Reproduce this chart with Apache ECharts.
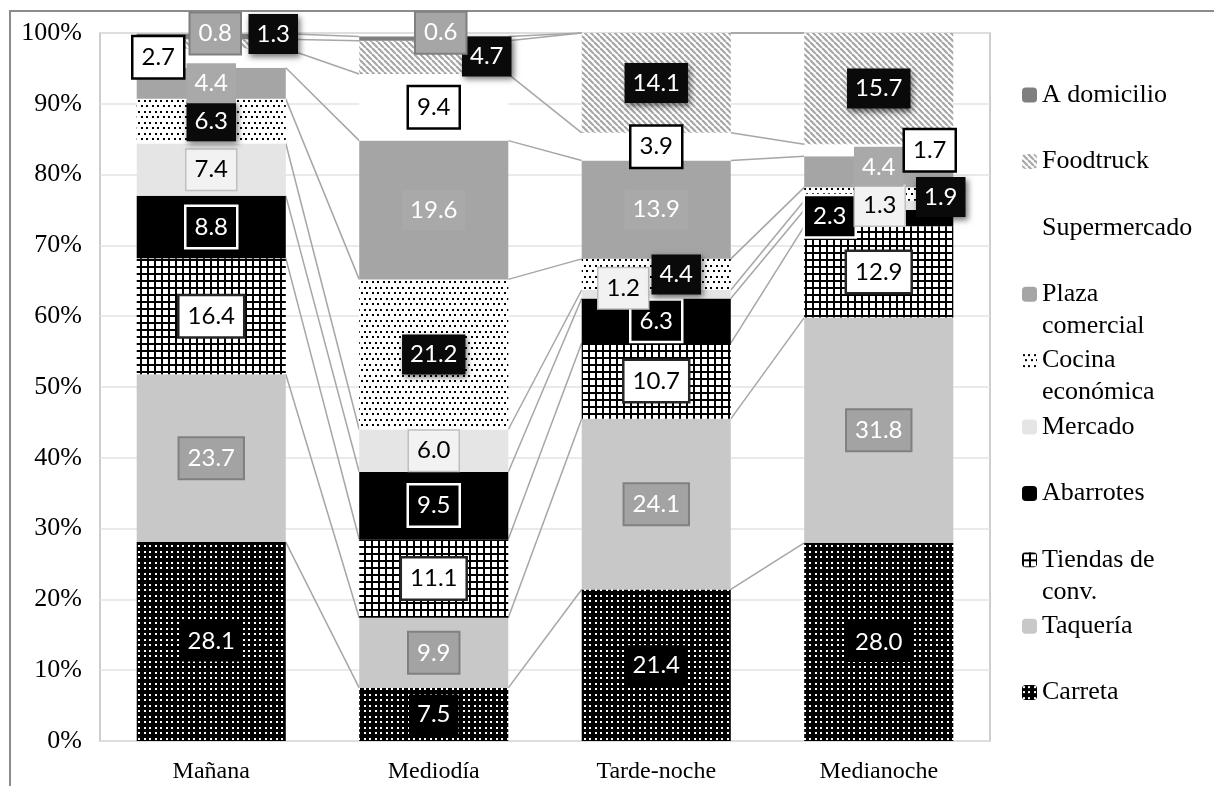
<!DOCTYPE html>
<html>
<head>
<meta charset="utf-8">
<script src="https://cdn.jsdelivr.net/npm/echarts@6/dist/echarts.min.js"></script>
<style>
  html, body { margin: 0; padding: 0; background: #ffffff; }
  #chart { width: 1214px; height: 786px; }
</style>
</head>
<body>
<div id="chart"></div>
<script>
// Time-of-day periods (x categories)
const periods = ['Mañana', 'Mediodía', 'Tarde-noche', 'Medianoche'];

// Share (%) of each place type per period, stacked bottom to top
const carreta      = [28.1,  7.5, 21.4, 28.0];
const taqueria     = [23.7,  9.9, 24.1, 31.8];
const tiendasConv  = [16.4, 11.1, 10.7, 12.9];
const abarrotes    = [ 8.8,  9.5,  6.3,  2.3];
const mercado      = [ 7.4,  6.0,  1.2,  1.3];
const cocinaEcon   = [ 6.3, 21.2,  4.4,  1.9];
const plazaCom     = [ 4.4, 19.6, 13.9,  4.4];
const supermercado = [ 2.7,  9.4,  3.9,  1.7];
const foodtruck    = [ 1.3,  4.7, 14.1, 15.7];
const aDomicilio   = [ 0.8,  0.6,  0.0,  0.0];

const seriesNames = ['Carreta', 'Taquería', 'Tiendas de conv.', 'Abarrotes', 'Mercado',
  'Cocina económica', 'Plaza comercial', 'Supermercado', 'Foodtruck', 'A domicilio'];
const seriesValues = [carreta, taqueria, tiendasConv, abarrotes, mercado,
  cocinaEcon, plazaCom, supermercado, foodtruck, aDomicilio];

// Legend wording (long names wrap onto two lines)
const legendText = {
  'Carreta': 'Carreta', 'Taquería': 'Taquería', 'Tiendas de conv.': 'Tiendas de\nconv.',
  'Abarrotes': 'Abarrotes', 'Mercado': 'Mercado', 'Cocina económica': 'Cocina\neconómica',
  'Plaza comercial': 'Plaza\ncomercial', 'Supermercado': 'Supermercado',
  'Foodtruck': 'Foodtruck', 'A domicilio': 'A domicilio'
};

// ---- fill patterns ----
function makeTile(size, draw) {
  const c = document.createElement('canvas');
  c.width = size; c.height = size;
  draw(c.getContext('2d'), size);
  return { image: c, repeat: 'repeat' };
}
const dotsOnBlack = makeTile(11, (g, n) => {
  g.fillStyle = '#000'; g.fillRect(0, 0, n, n);
  g.fillStyle = '#fff';
  [[1, 1], [6, 1], [1, 6], [6, 6]].forEach(p => g.fillRect(p[0], p[1], 2, 2));
});
const dotsOnWhite = makeTile(11, (g, n) => {
  g.fillStyle = '#fff'; g.fillRect(0, 0, n, n);
  g.fillStyle = '#000';
  [[1, 1], [6, 1], [3, 6], [9, 6]].forEach(p => g.fillRect(p[0], p[1], 2, 2));
});
const squareGrid = makeTile(7, (g, n) => {
  g.fillStyle = '#fff'; g.fillRect(0, 0, n, n);
  g.fillStyle = '#000';
  g.fillRect(0, 0, n, 2); g.fillRect(0, 0, 2, n);
});
const diagStripes = makeTile(6, (g, n) => {
  g.fillStyle = '#fff'; g.fillRect(0, 0, n, n);
  g.strokeStyle = '#a6a6a6'; g.lineWidth = 2.2;
  for (let k = -1; k <= 1; k++) {
    g.beginPath(); g.moveTo(k * n, 0); g.lineTo(k * n + n, n); g.stroke();
  }
});

const fills = [dotsOnBlack, '#c8c8c8', squareGrid, '#000000', '#e5e5e5',
  dotsOnWhite, '#a5a5a5', '#ffffff', diagStripes, '#7f7f7f'];

// Data-label box styles per series
const labelStyles = [
  { fill: '#fff', bg: '#000' },
  { fill: '#fff', bg: '#a3a3a3', border: '#808080', bw: 2 },
  { fill: '#000', bg: '#fff', border: '#262626', bw: 2.5 },
  { fill: '#fff', bg: '#000', border: '#fff', bw: 2.5 },
  { fill: '#000', bg: '#f2f2f2', border: '#bfbfbf', bw: 1.5 },
  { fill: '#fff', bg: '#0a0a0a', shadow: true },
  { fill: '#fff', bg: '#a9a9a9' },
  { fill: '#000', bg: '#fff', border: '#000', bw: 2.5 },
  { fill: '#fff', bg: '#0a0a0a', shadow: true },
  { fill: '#fff', bg: '#a6a6a6', border: '#7f7f7f', bw: 2 }
];
// Pixel nudges for labels moved off-centre so thin segments stay readable
const labelNudge = {
  3: { 3: [-49, -2] },
  4: { 2: [-33, -6], 3: [1, 0] },
  5: { 2: [20, 0], 3: [62, 3] },
  6: { 3: [0, -5] },
  7: { 0: [-53, -1], 3: [51, 0] },
  8: { 0: [62, -10], 1: [53, -1] },
  9: { 0: [4, -3], 1: [7, -6] }
};

// cumulative bottoms/tops of each stacked segment
const bottoms = [], tops = [];
seriesValues.forEach((vals, s) => {
  bottoms[s] = vals.map((v, c) => s === 0 ? 0 : tops[s - 1][c]);
  tops[s] = vals.map((v, c) => bottoms[s][c] + v);
});

const seriesLineData = [];
const labelData = [];
seriesValues.forEach((vals, s) => {
  for (let c = 0; c < periods.length - 1; c++) {
    seriesLineData.push([c, tops[s][c], tops[s][c + 1]]);
  }
  vals.forEach((v, c) => {
    if (v > 0) labelData.push([c, bottoms[s][c] + v / 2, v, s]);
  });
});

const BAR_RATIO = 0.67;

const barSeries = seriesNames.map((name, s) => ({
  name: name,
  type: 'bar',
  stack: 'share',
  barWidth: (BAR_RATIO * 100) + '%',
  z: 2,
  data: seriesValues[s],
  itemStyle: { color: fills[s], borderWidth: 0 },
  emphasis: { disabled: true },
  label: { show: false }
}));

// connectors between the top edges of matching segments
const connectorSeries = {
  type: 'custom',
  name: 'connectors',
  z: 1,
  silent: true,
  encode: { x: 0, y: 1 },
  data: seriesLineData,
  renderItem: function (params, api) {
    const c = api.value(0);
    const w = api.size([1, 0])[0] * BAR_RATIO;
    const a = api.coord([c, api.value(1)]);
    const b = api.coord([c + 1, api.value(2)]);
    return {
      type: 'line',
      shape: { x1: a[0] + w / 2, y1: a[1], x2: b[0] - w / 2, y2: b[1] },
      style: { stroke: '#a6a6a6', lineWidth: 1.5 }
    };
  }
};

// boxed value labels, drawn above every bar
const labelSeries = {
  type: 'custom',
  name: 'values',
  z: 10,
  silent: true,
  encode: { x: 0, y: 1 },
  data: labelData,
  renderItem: function (params, api) {
    const c = api.value(0), v = api.value(2), s = api.value(3);
    const p = api.coord([c, api.value(1)]);
    const nudge = (labelNudge[s] && labelNudge[s][c]) || [0, 0];
    const st = labelStyles[s];
    const style = {
      text: v.toFixed(1),
      font: '24px Lato',
      fill: st.fill,
      align: 'center',
      verticalAlign: 'middle',
      lineHeight: 24,
      backgroundColor: st.bg,
      padding: [8, 8, 8, 8]
    };
    if (st.border) { style.borderColor = st.border; style.borderWidth = st.bw; }
    if (st.shadow) {
      style.shadowBlur = 6; style.shadowColor = 'rgba(0,0,0,0.55)';
      style.shadowOffsetX = 2; style.shadowOffsetY = 3;
    }
    return { type: 'text', x: p[0] + nudge[0], y: p[1] + nudge[1], style: style };
  }
};

// one legend block per entry, stacked in fixed slots down the right side;
// wrapped names get a blank lead line so the swatch sits beside their first line
const twoLine = name => legendText[name].indexOf('\n') >= 0;
const legends = seriesNames.slice().reverse().map((name, i) => {
  const centre = 95 + i * 66.4;
  return {
    data: [name],
    orient: 'vertical',
    left: 1022,
    top: twoLine(name) ? centre - 48 : centre - 16,
    padding: 0,
    itemWidth: 15,
    itemHeight: 15,
    selectedMode: false,
    formatter: n => (twoLine(n) ? '\n' : '') + legendText[n],
    textStyle: {
      fontFamily: 'Liberation Serif', fontSize: 26, color: '#000', lineHeight: 32
    }
  };
});

const chart = echarts.init(document.getElementById('chart'), null, { renderer: 'canvas' });
chart.setOption({
  animation: false,
  backgroundColor: '#ffffff',
  graphic: [{
    type: 'rect', silent: true, z: 0,
    shape: { x: 10, y: 11, width: 1400, height: 900 },
    style: { fill: 'none', stroke: '#8c8c8c', lineWidth: 2 }
  }],
  grid: {
    left: 100, right: 224, top: 33, bottom: 45,
    show: true, borderColor: '#bdbdbd', borderWidth: 1.5,
    outerBoundsMode: 'none'
  },
  legend: legends,
  xAxis: {
    type: 'category',
    data: periods,
    axisTick: { show: false },
    axisLine: { show: false },
    axisLabel: { fontFamily: 'Liberation Serif', fontSize: 24, color: '#000', margin: 19 }
  },
  yAxis: {
    type: 'value',
    min: 0, max: 100, interval: 10,
    axisLine: { show: false },
    axisTick: { show: false },
    splitLine: { lineStyle: { color: '#e3e3e3', width: 1.5 } },
    axisLabel: {
      formatter: '{value}%',
      fontFamily: 'Liberation Serif', fontSize: 26, color: '#000', margin: 18
    }
  },
  series: barSeries.concat([connectorSeries, labelSeries])
});
</script>
</body>
</html>
